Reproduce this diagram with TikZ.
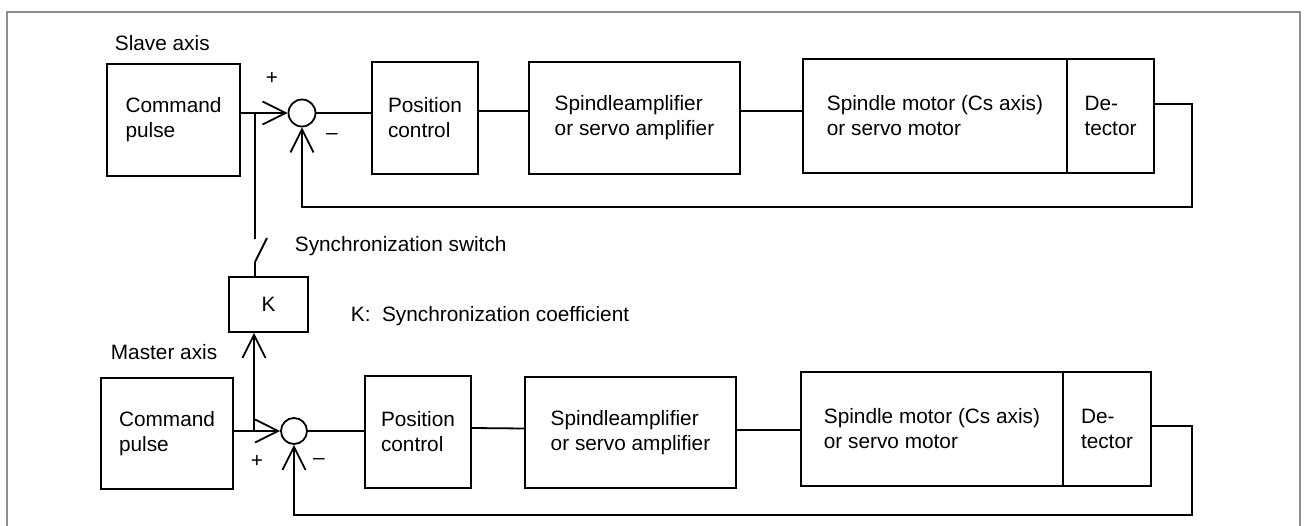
\documentclass[tikz,border=0pt]{standalone}
\usepackage{fontspec}
\setmainfont{Liberation Sans}
\usetikzlibrary{arrows.meta,calc}
\begin{document}
\begin{tikzpicture}[x=1pt,y=-1pt,
  line width=1.8pt,
  blk/.style={draw,line width=1.8pt,inner sep=0pt,align=left,font=\fontsize{20.8}{25}\selectfont},
  sumpt/.style={draw,circle,line width=1.8pt,inner sep=0pt,minimum size=27pt},
  lbl/.style={inner sep=0pt,font=\fontsize{20.8}{25}\selectfont},
  barb/.style={-{Straight Barb[length=23pt,width=23pt,line width=1.8pt]}},
  wire/.style={line width=1.8pt}]
\useasboundingbox (0,0) rectangle (1304,525);
\draw[draw=black!45,line width=2pt] (7,12) rectangle (1300,540);

% ---- slave axis ----
\node[lbl,anchor=west] (slave) at (114,43) {Slave axis};
\node[blk,minimum width=133pt,minimum height=112pt] (cmd1) at (173.5,120) {Command\\pulse};
\node[sumpt] (s1) at (302,113) {};
\node[blk,minimum width=106pt,minimum height=112pt] (pos1) at (425,118) {Position\\control};
\node[blk,minimum width=211pt,minimum height=112pt] (amp1) at (634.5,118) {Spindleamplifier\\or servo amplifier};
\node[blk,minimum width=264pt,minimum height=114pt] (mot1) at (935,116) {Spindle motor (Cs axis)\\or servo motor};
\node[blk,minimum width=87pt,minimum height=114pt] (det1) at (1110.5,116) {De-\\tector};
\node[lbl] (p1) at (272,78) {+};
\node[lbl] (m1) at (332,137) {–};

\coordinate (js) at (255,113);
\draw[barb] ([yshift=7pt]cmd1.east) -- (s1.west);
\draw[wire] (s1.east) -- (s1.east -| pos1.west);
\draw[wire] ([yshift=7pt]pos1.east) -- ([yshift=7pt]amp1.west);
\draw[wire] ([yshift=7pt]amp1.east) -- ([yshift=5pt]mot1.west);
\coordinate (fb1a) at (1192,104);
\coordinate (fb1b) at (1192,207);
\draw[barb] ([yshift=12pt]det1.east) -- (fb1a) -- (fb1b) -- (fb1b -| s1.south) -- (s1.south);

% ---- switch and K ----
\coordinate (sw1) at (255,239);
\coordinate (sw2) at (255,262);
\coordinate (swt) at (267,238);
\node[lbl,anchor=west] (swl) at (294,246) {Synchronization switch};
\node[blk,minimum width=79pt,minimum height=55pt] (k) at (268.5,304.5) {K};
\node[lbl,anchor=west] (kl) at (350,316) {K:\ \ Synchronization coefficient};
\draw[wire] (js) -- (sw1);
\draw[wire] (sw2) -- (swt);
\draw[wire] (sw2) -- (sw2 |- k.north);

% ---- master axis ----
\node[lbl,anchor=west] (master) at (110,352) {Master axis};
\node[blk,minimum width=132pt,minimum height=111pt] (cmd2) at (167,433.5) {Command\\pulse};
\node[sumpt,minimum size=26pt] (s2) at (294,431) {};
\node[blk,minimum width=106pt,minimum height=112pt] (pos2) at (418,432) {Position\\control};
\node[blk,minimum width=211pt,minimum height=111pt] (amp2) at (630.5,432.5) {Spindleamplifier\\or servo amplifier};
\node[blk,minimum width=262pt,minimum height=114pt] (mot2) at (932,429) {Spindle motor (Cs axis)\\or servo motor};
\node[blk,minimum width=88pt,minimum height=114pt] (det2) at (1107,429) {De-\\tector};
\node[lbl] (p2) at (257,461) {+};
\node[lbl] (m2) at (319,462) {–};

\coordinate (jm) at (254,431);
\draw[barb] (cmd2.east |- s2.west) -- (s2.west);
\draw[barb] (jm) -- (jm |- k.south);
\draw[wire] (s2.east) -- (s2.east -| pos2.west);
\draw[wire] ([yshift=4pt]pos2.east) -- ([yshift=4pt]amp2.west);
\draw[wire] ([yshift=2.5pt]amp2.east) -- ([yshift=-1pt]mot2.west);
\coordinate (fb2a) at (1192,426);
\coordinate (fb2b) at (1192,515);
\draw[barb] ([yshift=3pt]det2.east) -- (fb2a) -- (fb2b) -- (fb2b -| s2.south) -- (s2.south);
\end{tikzpicture}
\end{document}
